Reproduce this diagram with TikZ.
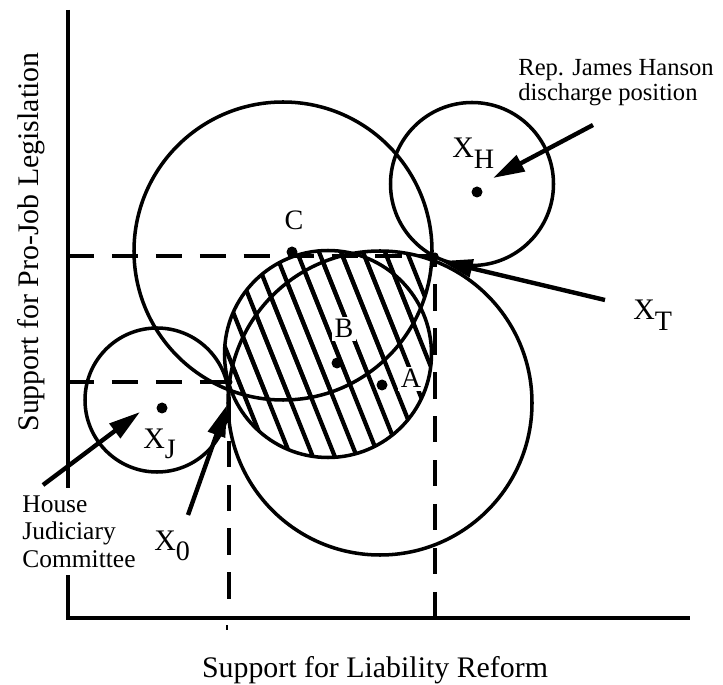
\documentclass[tikz,border=0pt]{standalone}
\usepackage{fontspec}
\setmainfont{Liberation Serif}
\usetikzlibrary{arrows.meta}

\newcommand{\Xsub}[1]{X\raisebox{-6pt}{\fontsize{16}{16}\selectfont #1}}

\begin{document}
\begin{tikzpicture}[
    x=0.02cm, y=-0.02cm,
    curve/.style={line width=2pt},
    axisline/.style={line width=2pt, line join=miter},
    guide/.style={line width=2pt, dash pattern=on 15pt off 10pt},
    hatchline/.style={line width=2.4pt},
    pointer/.style={line width=2.5pt, -{Triangle[length=18pt, width=10pt]}},
    lbl/.style={inner sep=0pt, anchor=base, font=\fontsize{16}{16}\selectfont},
    inlbl/.style={lbl, fill=white, inner sep=1.5pt},
    xlbl/.style={inner sep=0pt, anchor=base west, font=\fontsize{17}{17}\selectfont},
    note/.style={align=left, anchor=north west, font=\fontsize{14}{14.2}\selectfont},
    axislbl/.style={inner sep=0pt, anchor=base, font=\fontsize{17}{17}\selectfont}
  ]
  \useasboundingbox (0,0) rectangle (723,685);

  \coordinate (O)   at (68,618);
  \coordinate (XT)  at (435,256);
  \coordinate (X0)  at (229,382);
  \coordinate (C)   at (292,252);
  \coordinate (B)   at (337,363);
  \coordinate (A)   at (382,385);
  \coordinate (XJ)  at (162,408);
  \coordinate (XH)  at (477,192);
  \coordinate (cUp) at (283,251);
  \coordinate (cLo) at (380,403);
  \coordinate (cB)  at (328,354);
  \coordinate (cJ)  at (157,400);
  \coordinate (cH)  at (472,184);

  \draw[axisline] (68,10) -- (O) -- (690,618);
  \draw[line width=1pt] (227,625) -- (227,630);

  \begin{scope}
    \clip (cB) circle (103.5);
    \foreach \k in {-8,...,8}
      \draw[hatchline] ({255+22*\k},202) -- ({375+22*\k},502);
  \end{scope}
  \begin{scope}
    \clip (cLo) circle (152);
    \clip (cUp) circle (149);
    \foreach \k in {-8,...,8}
      \draw[hatchline] ({255+22*\k},202) -- ({375+22*\k},502);
  \end{scope}
  \node[inlbl] (lblB) at (344,338) {B};
  \node[inlbl] (lblA) at (411,388) {A};

  \draw[curve] (cUp) circle (149);
  \draw[curve] (cLo) circle (152);
  \draw[curve] (cB) circle (103.5);
  \draw[curve] (cJ) circle (72);
  \draw[curve] (cH) circle (81.5);

  \draw[guide] (O |- XT) -- (XT) -- (XT |- O);
  \draw[guide] (O |- X0) -- (X0) -- (X0 |- O);

  \foreach \p in {C,B,A,XJ,XH} \fill (\p) circle (5.5);
  \foreach \p in {XT,X0} \fill (\p) circle (3.5);

  \coordinate (tailH) at (593,125);
  \coordinate (tipH)  at (493,178);
  \coordinate (tailT) at (605,300);
  \coordinate (tipT)  at (441,261);
  \coordinate (tailJ) at (43,485);
  \coordinate (tipJ)  at (140,412);
  \coordinate (tail0) at (188,515);
  \coordinate (tip0)  at (227,405);
  \draw[pointer] (tailH) -- (tipH);
  \draw[pointer] (tailT) -- (tipT);
  \draw[pointer] (tailJ) -- (tipJ);
  \draw[pointer] (tail0) -- (tip0);

  \node[lbl] (lblC) at (294,230) {C};
  \node[xlbl] (lblXH) at (452,158) {\Xsub{H}};
  \node[xlbl] (lblXT) at (633,320) {\Xsub{T}};
  \node[xlbl] (lblXJ) at (143,448) {\Xsub{J}};
  \node[xlbl] (lblX0) at (154,550) {\Xsub{0}};

  \node[note, inner sep=0pt] (rep) at (518,58.7) {Rep. James Hanson\\discharge position};
  \node[note, font=\fontsize{14.5}{15.9}\selectfont, fill=white, inner sep=4pt] (house) at (15,488) {House\\Judiciary\\Committee};

  \node[axislbl] (xlab) at (375,677) {Support for Liability Reform};
  \node[axislbl, rotate=90] (ylab) at (38,242) {Support for Pro-Job Legislation};
\end{tikzpicture}
\end{document}
